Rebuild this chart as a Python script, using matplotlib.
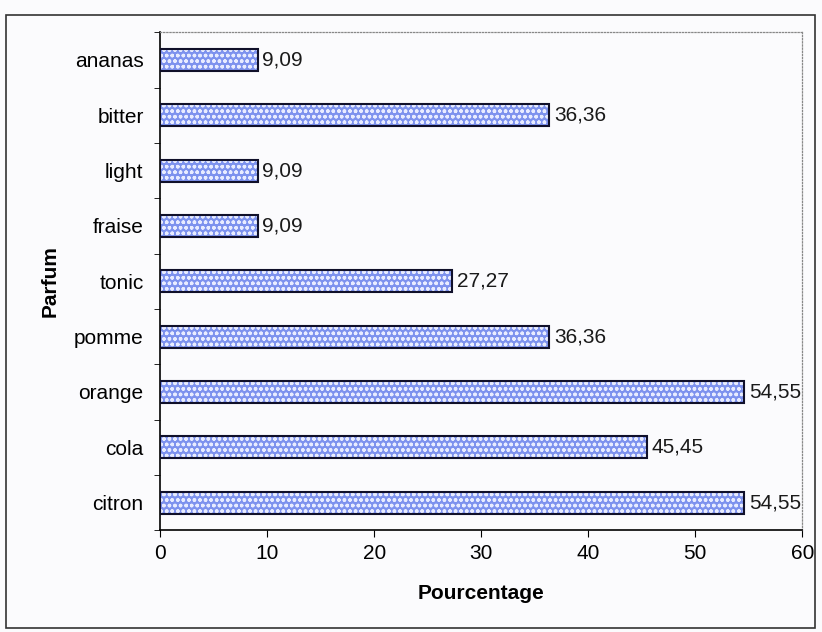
import numpy as np
import matplotlib.pyplot as plt
from matplotlib.patches import Rectangle

plt.rcParams['font.family'] = ['Liberation Sans', 'DejaVu Sans']

parfums = ["citron", "cola", "orange", "pomme", "tonic", "fraise", "light", "bitter", "ananas"]
pourcentages = [54.55, 45.45, 54.55, 36.36, 27.27, 9.09, 9.09, 36.36, 9.09]
xticks = [0, 10, 20, 30, 40, 50, 60]

fig = plt.figure(figsize=(8.22, 6.32), dpi=100)
fig.patch.set_facecolor('#fbfbfd')
ax = fig.add_axes([0.195, 0.161, 0.781, 0.788])
ax.set_facecolor('#fbfbfd')

y = np.arange(len(parfums))
# hatched fill, then a dark outline on top
ax.barh(y, pourcentages, height=0.4, color='#7d92ee', edgecolor='#e8ecff',
        hatch='ooo', linewidth=0, zorder=2)
ax.barh(y, pourcentages, height=0.4, fill=False, edgecolor='#10102a',
        linewidth=1.5, zorder=3)

for yi, v in zip(y, pourcentages):
    ax.text(v + 0.45, yi, f"{v:.2f}".replace('.', ','), va='center', ha='left',
            fontsize=15, color='#1a1a1a')

ax.set_xlim(0, 60)
ax.set_ylim(-0.5, len(parfums) - 0.5)
ax.set_xticks(xticks)
ax.set_xticklabels([str(t) for t in xticks], fontsize=15)
ax.set_yticks(y)
ax.set_yticklabels(parfums, fontsize=15)
ax.set_yticks(np.arange(-0.5, len(parfums), 1), minor=True)
ax.tick_params(axis='y', which='major', length=0, pad=12)
ax.tick_params(axis='y', which='minor', length=4)
ax.tick_params(axis='x', length=5, pad=5)

ax.spines['left'].set_linewidth(1.2)
ax.spines['bottom'].set_linewidth(1.2)
for side in ['top', 'right']:
    ax.spines[side].set_linestyle((0, (1, 1.5)))
    ax.spines[side].set_color('#888888')
    ax.spines[side].set_linewidth(0.9)

ax.set_xlabel("Pourcentage", fontsize=15, fontweight='bold', labelpad=15)
ax.set_ylabel("Parfum", fontsize=15, fontweight='bold', labelpad=10)

# frame round the whole chart
fig.patches.append(Rectangle((0.007, 0.006), 0.985, 0.97, transform=fig.transFigure,
                             fill=False, edgecolor='#333333', linewidth=1.2))

fig.savefig("out.png", dpi=100)
